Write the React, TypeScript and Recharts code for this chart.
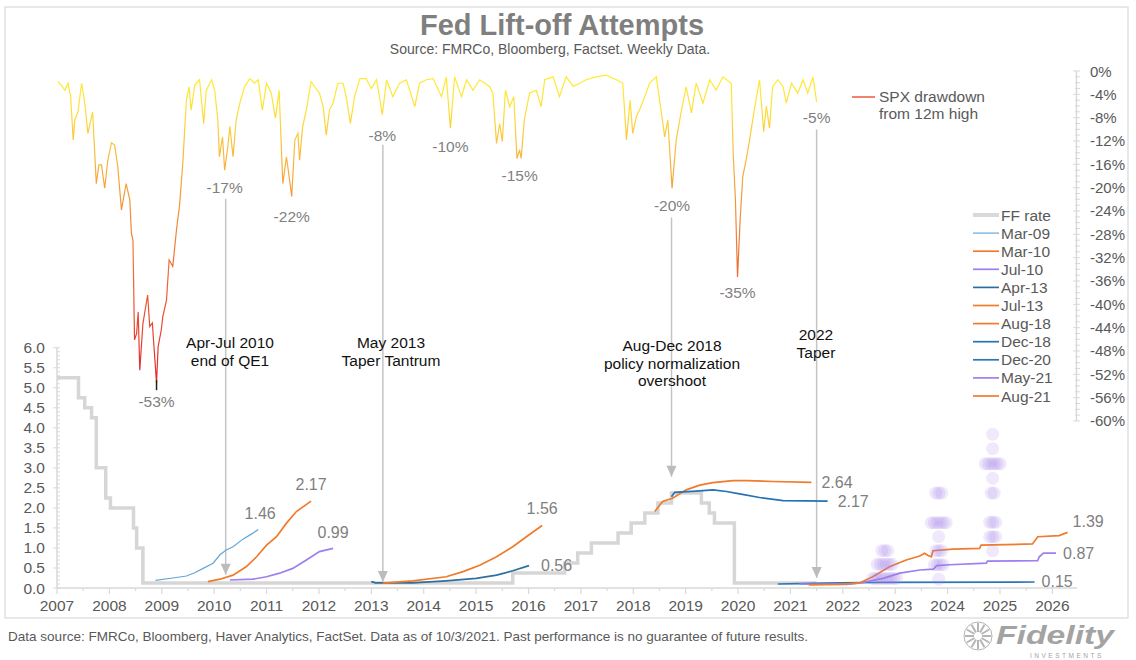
import React from "react";
import {
  ComposedChart,
  Line,
  Scatter,
  XAxis,
  YAxis,
  ReferenceLine,
  ReferenceDot,
} from "recharts";

// ---- tick labels ----
const years = [2007, 2008, 2009, 2010, 2011, 2012, 2013, 2014, 2015, 2016, 2017, 2018, 2019, 2020, 2021, 2022, 2023, 2024, 2025, 2026];
const rateLabels = [0, 0.5, 1, 1.5, 2, 2.5, 3, 3.5, 4, 4.5, 5, 5.5, 6];
const ddLabels = [0, -4, -8, -12, -16, -20, -24, -28, -32, -36, -40, -44, -48, -52, -56, -60];

// ---- SPX drawdown from 12m high (%) ----
const spxDrawdown: [number, number][] = [
  [2007.02, -1.8], [2007.08, -2.4], [2007.15, -3.3], [2007.21, -2.1], [2007.26, -4.4], [2007.31, -11.8],
  [2007.34, -8.4], [2007.4, -7.0], [2007.47, -2.1], [2007.53, -5.5], [2007.59, -10.7], [2007.68, -7.0],
  [2007.75, -19.3], [2007.8, -16.1], [2007.85, -16.1], [2007.91, -20.1], [2007.97, -15.3], [2008.04, -12.3],
  [2008.1, -12.7], [2008.16, -16.4], [2008.23, -23.8], [2008.32, -19.3], [2008.39, -22.1], [2008.42, -27.8],
  [2008.45, -29.0], [2008.48, -46.1], [2008.52, -45.0], [2008.55, -41.3], [2008.58, -51.3], [2008.64, -43.3],
  [2008.73, -38.4], [2008.77, -43.8], [2008.82, -43.2], [2008.86, -48.4], [2008.9, -53.5], [2008.93, -47.3],
  [2008.99, -44.4], [2009.02, -42.1], [2009.09, -39.3], [2009.14, -32.4], [2009.21, -33.5], [2009.28, -27.3],
  [2009.34, -23.0], [2009.4, -16.0], [2009.47, -5.0], [2009.52, -2.7], [2009.56, -6.7], [2009.63, -2.4],
  [2009.72, -1.5], [2009.8, -9.0], [2009.85, -3.3], [2009.95, -1.5], [2010.01, -3.3], [2010.07, -8.4],
  [2010.1, -14.7], [2010.16, -11.3], [2010.2, -17.0], [2010.26, -13.0], [2010.3, -9.5], [2010.36, -14.7],
  [2010.42, -8.4], [2010.49, -5.5], [2010.58, -2.7], [2010.68, -1.3], [2010.77, -2.1], [2010.84, -1.5],
  [2010.92, -6.7], [2011.0, -2.1], [2011.09, -3.8], [2011.17, -8.1], [2011.24, -3.3], [2011.31, -19.3],
  [2011.38, -14.7], [2011.44, -18.7], [2011.48, -21.5], [2011.54, -11.8], [2011.6, -10.7], [2011.63, -15.3],
  [2011.69, -9.5], [2011.76, -6.7], [2011.85, -1.8], [2011.92, -2.7], [2012.01, -3.8], [2012.08, -6.1],
  [2012.14, -11.0], [2012.2, -6.7], [2012.27, -5.5], [2012.36, -2.1], [2012.46, -2.1], [2012.52, -4.4],
  [2012.6, -9.0], [2012.68, -4.4], [2012.78, -1.3], [2012.9, -1.3], [2013.0, -3.0], [2013.1, -1.5],
  [2013.21, -7.5], [2013.29, -1.5], [2013.41, -4.4], [2013.54, -2.1], [2013.67, -1.5], [2013.83, -6.1],
  [2013.92, -2.1], [2014.05, -1.5], [2014.18, -1.3], [2014.34, -4.4], [2014.43, -1.0], [2014.51, -9.8],
  [2014.59, -1.0], [2014.72, -4.4], [2014.82, -1.5], [2014.94, -3.3], [2015.07, -1.5], [2015.26, -2.7],
  [2015.32, -3.8], [2015.39, -12.4], [2015.45, -9.0], [2015.5, -12.1], [2015.56, -3.3], [2015.64, -6.1],
  [2015.72, -4.4], [2015.78, -15.0], [2015.83, -13.5], [2015.86, -15.0], [2015.92, -8.4], [2016.02, -3.8],
  [2016.15, -3.3], [2016.24, -6.1], [2016.31, -1.5], [2016.47, -1.0], [2016.59, -4.4], [2016.72, -1.0],
  [2016.85, -2.6], [2016.98, -2.1], [2017.1, -1.5], [2017.29, -1.0], [2017.48, -0.7], [2017.68, -1.5],
  [2017.8, -2.1], [2017.87, -11.8], [2017.94, -5.0], [2017.99, -10.7], [2018.06, -7.8], [2018.12, -6.7],
  [2018.22, -4.4], [2018.31, -2.1], [2018.44, -1.0], [2018.53, -6.7], [2018.6, -11.3], [2018.66, -8.4],
  [2018.74, -20.1], [2018.82, -11.8], [2018.92, -6.7], [2019.01, -2.7], [2019.11, -7.2], [2019.2, -2.1],
  [2019.33, -5.5], [2019.46, -1.5], [2019.58, -3.3], [2019.71, -1.0], [2019.87, -2.1], [2019.91, -14.7],
  [2019.95, -22.1], [2019.99, -35.3], [2020.04, -25.5], [2020.09, -18.1], [2020.16, -15.0], [2020.22, -11.8],
  [2020.31, -6.7], [2020.41, -1.5], [2020.49, -10.4], [2020.54, -6.0], [2020.6, -9.8], [2020.66, -2.7],
  [2020.76, -1.5], [2020.86, -2.7], [2020.92, -5.5], [2021.02, -2.1], [2021.14, -3.8], [2021.24, -1.5],
  [2021.33, -3.8], [2021.43, -1.0], [2021.5, -5.3],
];

// ---- Fed funds rate (step) ----
const ffRate: [number, number][] = [
  [2007.0, 5.25], [2007.41, 4.75], [2007.53, 4.5], [2007.66, 4.25], [2007.75, 3.0], [2007.93, 2.25],
  [2008.02, 2.0], [2008.46, 1.5], [2008.52, 1.0], [2008.64, 0.125], [2015.7, 0.375], [2016.69, 0.625],
  [2016.94, 0.875], [2017.2, 1.125], [2017.71, 1.375], [2017.96, 1.625], [2018.22, 1.875], [2018.47, 2.125],
  [2018.73, 2.375], [2019.3, 2.125], [2019.45, 1.875], [2019.55, 1.625], [2019.93, 0.125], [2021.5, 0.125],
];

// ---- market-implied paths at each lift-off attempt ----
const mar09: [number, number][] = [
  [2008.88, 0.19], [2009.21, 0.25], [2009.47, 0.3], [2009.63, 0.38], [2009.79, 0.49], [2009.98, 0.62],
  [2010.11, 0.83], [2010.23, 0.95], [2010.36, 1.03], [2010.55, 1.22], [2010.74, 1.37], [2010.84, 1.46],
];
const mar10: [number, number][] = [
  [2009.88, 0.16], [2010.11, 0.22], [2010.36, 0.32], [2010.61, 0.53], [2010.81, 0.78], [2011.0, 1.07],
  [2011.19, 1.28], [2011.38, 1.62], [2011.57, 1.91], [2011.85, 2.17],
];
const jul10: [number, number][] = [
  [2010.3, 0.2], [2010.74, 0.22], [2011.0, 0.28], [2011.25, 0.37], [2011.5, 0.49], [2011.76, 0.7],
  [2012.01, 0.91], [2012.27, 0.99],
];
const apr13: [number, number][] = [
  [2013.0, 0.16], [2013.08, 0.13], [2013.79, 0.13], [2014.43, 0.18], [2015.0, 0.24], [2015.39, 0.32],
  [2015.7, 0.43], [2016.01, 0.56],
];
const jul13: [number, number][] = [
  [2013.22, 0.12], [2013.79, 0.18], [2014.43, 0.28], [2014.75, 0.41], [2015.07, 0.57], [2015.39, 0.78],
  [2015.7, 1.03], [2015.96, 1.28], [2016.26, 1.56],
];
const aug18: [number, number][] = [
  [2018.41, 1.91], [2018.56, 2.16], [2018.75, 2.24], [2019.01, 2.45], [2019.27, 2.57], [2019.52, 2.63],
  [2019.9, 2.68], [2020.16, 2.68], [2020.66, 2.66], [2021.4, 2.64],
];
const dec18: [number, number][] = [
  [2018.73, 2.28], [2018.79, 2.39], [2019.2, 2.42], [2019.52, 2.45], [2019.78, 2.41], [2020.03, 2.35],
  [2020.41, 2.26], [2020.86, 2.18], [2021.71, 2.17],
];
const dec20: [number, number][] = [
  [2020.76, 0.1], [2021.62, 0.12], [2022.7, 0.14], [2025.66, 0.15],
];
const may21: [number, number][] = [
  [2021.17, 0.1], [2022.07, 0.09], [2022.33, 0.13], [2022.77, 0.24], [2023.09, 0.37], [2023.47, 0.45],
  [2023.73, 0.47], [2023.79, 0.56], [2024.04, 0.58], [2024.74, 0.62], [2024.76, 0.67], [2025.72, 0.68],
  [2025.75, 0.78], [2025.83, 0.87], [2026.07, 0.87],
];
const aug21: [number, number][] = [
  [2021.35, 0.08], [2021.93, 0.09], [2022.31, 0.12], [2022.57, 0.28], [2022.89, 0.53], [2023.21, 0.7],
  [2023.47, 0.8], [2023.56, 0.87], [2023.62, 0.82], [2023.69, 0.78], [2023.72, 0.93], [2024.1, 0.97],
  [2024.61, 0.99], [2024.64, 1.07], [2025.62, 1.1], [2025.72, 1.28], [2026.13, 1.31], [2026.29, 1.39],
];

// ---- FOMC dots: [year, rate, number of participants] ----
const fomcDots: [number, number, number][] = [
  [2022.8, 0.24, 9], [2022.8, 0.59, 6], [2022.8, 0.93, 3],
  [2023.83, 0.22, 1], [2023.83, 0.58, 4], [2023.83, 0.93, 3], [2023.83, 1.28, 1], [2023.83, 1.63, 6], [2023.83, 2.37, 3],
  [2024.86, 0.93, 1], [2024.86, 1.28, 3], [2024.86, 1.64, 3], [2024.86, 2.37, 2], [2024.86, 2.74, 1],
  [2024.86, 3.1, 6], [2024.86, 3.48, 1], [2024.86, 3.84, 1],
];

// ---- drawdown troughs that get a label: [year, drawdown %] ----
const troughs: [number, number][] = [
  [2008.9, -53], [2010.2, -17], [2011.48, -22], [2013.21, -8], [2014.51, -10],
  [2015.83, -15], [2018.74, -20], [2019.99, -35], [2021.5, -5],
];

// ---- arrows: [year, top (rate axis), tip (rate axis)] ----
const arrows: [number, number, number][] = [
  [2010.22, 9.72, 0.33], [2013.22, 11.07, 0.15], [2018.73, 9.25, 2.78], [2021.5, 11.45, 0.25],
];

const FONT = '"Liberation Sans", Arial, sans-serif';
const ORANGE = "#f07b2a";
const PURPLE = "#9d7ff0";

const attempts = [
  { name: "Mar-09", data: mar09, color: "#62a6d8", width: 1.2, dx: 2, dy: -16, anchor: "middle" },
  { name: "Mar-10", data: mar10, color: ORANGE, width: 1.7, dx: 0, dy: -17, anchor: "middle" },
  { name: "Jul-10", data: jul10, color: PURPLE, width: 1.7, dx: 0, dy: -16, anchor: "middle" },
  { name: "Apr-13", data: apr13, color: "#2f6f9f", width: 1.7, dx: 12, dy: 0, anchor: "start" },
  { name: "Jul-13", data: jul13, color: ORANGE, width: 1.7, dx: 0, dy: -17, anchor: "middle" },
  { name: "Aug-18", data: aug18, color: ORANGE, width: 1.7, dx: 10, dy: 0, anchor: "start" },
  { name: "Dec-18", data: dec18, color: "#2472b8", width: 1.7, dx: 10, dy: 0, anchor: "start" },
  { name: "Dec-20", data: dec20, color: "#2e75b6", width: 1.7, dx: 7, dy: 0, anchor: "start" },
  { name: "May-21", data: may21, color: PURPLE, width: 1.7, dx: 7, dy: 0, anchor: "start" },
  { name: "Aug-21", data: aug21, color: ORANGE, width: 1.7, dx: 5, dy: -11, anchor: "start" },
];

const toPts = (arr: [number, number][]) => arr.map(([x, y]) => ({ x, y }));

const xTicks = years.flatMap((y) => [y, y + 0.5]).filter((v) => v <= 2026.4);
const rateTicks = Array.from({ length: 61 }, (_, i) => i / 10);
const ddTicks = Array.from({ length: 61 }, (_, i) => -i);

const PLOT_BOTTOM = 588;
const AXIS = "#d9d9d9";
const TICK_TEXT = "#595959";

const XTick = (p: any) => {
  const v = p.payload.value;
  const major = Number.isInteger(v);
  return (
    <g>
      <line x1={p.x} x2={p.x} y1={PLOT_BOTTOM} y2={PLOT_BOTTOM + (major ? 6 : 3)} stroke={AXIS} strokeWidth={1.2} />
      {major && (
        <text x={p.x} y={PLOT_BOTTOM + 23} textAnchor="middle" fontSize={15.5} fill={TICK_TEXT} fontFamily={FONT}>
          {v}
        </text>
      )}
    </g>
  );
};

const RateTick = (p: any) => {
  const v = p.payload.value;
  if (v > 6.001) return <g />;
  const major = rateLabels.some((l) => Math.abs(l - v) < 1e-6);
  return (
    <g>
      <line x1={major ? 53 : 57} x2={60} y1={p.y} y2={p.y} stroke={AXIS} strokeWidth={1} />
      {major && (
        <text x={45} y={p.y + 5.5} textAnchor="end" fontSize={15.5} fill={TICK_TEXT} fontFamily={FONT}>
          {v.toFixed(1)}
        </text>
      )}
    </g>
  );
};

const DdTick = (p: any) => {
  const v = p.payload.value;
  if (v < -60) return <g />;
  const major = ddLabels.includes(v);
  return (
    <g>
      <line x1={major ? 1073 : 1075} x2={1080} y1={p.y} y2={p.y} stroke={AXIS} strokeWidth={1} />
      {major && (
        <text x={1090} y={p.y + 5.5} textAnchor="start" fontSize={15} fill={TICK_TEXT} fontFamily={FONT}>
          {v}%
        </text>
      )}
    </g>
  );
};

const endLabel = (s: any) => (p: any) => {
  const n = s.data.length;
  if (p.index !== n - 1) return <g key={p.index} />;
  return (
    <text
      key={p.index}
      x={p.cx + s.dx}
      y={p.cy + s.dy + 5.5}
      textAnchor={s.anchor}
      fontSize={16}
      fill="#7f7f7f"
      fontFamily={FONT}
    >
      {s.data[n - 1][1].toFixed(2)}
    </text>
  );
};

const DotRow = (p: any) => {
  const n = p.payload.n;
  const step = 3;
  return (
    <g>
      {Array.from({ length: n }, (_, i) => (
        <circle key={i} cx={p.cx + (i - (n - 1) / 2) * step} cy={p.cy} r={6.5} fill="#a07ae8" fillOpacity={0.17} />
      ))}
    </g>
  );
};

const dotData = fomcDots.map(([x, y, n]) => ({ x, y, n }));

const legendRows = [{ name: "FF rate", color: "#d9d9d9", width: 4 }, ...attempts];

const notes = [
  { x: 230, y: 348, lines: ["Apr-Jul 2010", "end of QE1"] },
  { x: 391, y: 348, lines: ["May 2013", "Taper Tantrum"] },
  { x: 672, y: 351, lines: ["Aug-Dec 2018", "policy normalization", "overshoot"] },
  { x: 816, y: 340, lines: ["2022", "Taper"] },
];

export default function App() {
  return (
    <div style={{ position: "absolute", left: 0, top: 0, width: 1136, height: 660, background: "#fff", overflow: "hidden" }}>
      <div style={{ position: "absolute", left: 0, top: 0 }}>
        <ComposedChart width={1136} height={660} margin={{ top: 71, right: 4, bottom: 42, left: 7 }}>
          <defs>
            <linearGradient id="ddGrad" gradientUnits="userSpaceOnUse" x1="0" y1="71" x2="0" y2="383">
              <stop offset="0" stopColor="#ffee2e" />
              <stop offset="0.12" stopColor="#fde03a" />
              <stop offset="0.25" stopColor="#f9bd3f" />
              <stop offset="0.4" stopColor="#f39a3a" />
              <stop offset="0.6" stopColor="#ee7336" />
              <stop offset="0.8" stopColor="#e94a31" />
              <stop offset="1" stopColor="#e0262b" />
            </linearGradient>
          </defs>
          <XAxis
            type="number"
            dataKey="x"
            domain={[2007, 2026.47]}
            ticks={xTicks}
            interval={0}
            tick={XTick}
            tickLine={false}
            axisLine={{ stroke: AXIS, strokeWidth: 1.6 }}
            height={30}
          />
          <YAxis
            yAxisId="rate"
            type="number"
            domain={[0, 12.91]}
            ticks={rateTicks}
            interval={0}
            tick={RateTick}
            axisLine={false}
            tickLine={false}
            width={50}
          />
          <YAxis
            yAxisId="dd"
            orientation="right"
            type="number"
            domain={[-88.63, 0]}
            ticks={ddTicks}
            interval={0}
            tick={DdTick}
            axisLine={false}
            tickLine={false}
            width={55}
          />

          {/* axis lines that only span part of the height */}
          <ReferenceLine yAxisId="rate" segment={[{ x: 2007, y: 0 }, { x: 2007, y: 6 }]} stroke={AXIS} strokeWidth={1.5} />
          <ReferenceLine yAxisId="dd" segment={[{ x: 2026.46, y: 0 }, { x: 2026.46, y: -60 }]} stroke={AXIS} strokeWidth={1.5} />

          {arrows.map(([x, top, tip], i) => (
            <ReferenceLine
              key={"a" + i}
              yAxisId="rate"
              segment={[{ x, y: top }, { x, y: tip }]}
              stroke="#c4c4c4"
              strokeWidth={1.5}
            />
          ))}
          {arrows.map(([x, , tip], i) => (
            <ReferenceDot
              key={"ah" + i}
              yAxisId="rate"
              x={x}
              y={tip}
              r={0}
              shape={(p: any) => (
                <path d={`M${p.cx - 5},${p.cy - 11} L${p.cx + 5},${p.cy - 11} L${p.cx},${p.cy} Z`} fill="#bcbcbc" />
              )}
            />
          ))}

          <Line
            yAxisId="rate"
            data={toPts(ffRate)}
            dataKey="y"
            type="stepAfter"
            stroke="#d6d6d6"
            strokeWidth={3.5}
            dot={false}
            activeDot={false}
            isAnimationActive={false}
          />
          <Scatter
            yAxisId="rate"
            data={dotData}
            dataKey="y"
            shape={DotRow}
            isAnimationActive={false}
          />
          {attempts.map((s) => (
            <Line
              key={s.name}
              yAxisId="rate"
              data={toPts(s.data)}
              dataKey="y"
              type="linear"
              stroke={s.color}
              strokeWidth={s.width}
              dot={endLabel(s)}
              activeDot={false}
              isAnimationActive={false}
            />
          ))}
          <Line
            yAxisId="dd"
            data={toPts(spxDrawdown)}
            dataKey="y"
            type="linear"
            stroke="url(#ddGrad)"
            strokeWidth={1.2}
            dot={false}
            activeDot={false}
            isAnimationActive={false}
          />

          {troughs.map(([x, v], i) => (
            <ReferenceDot
              key={"t" + i}
              yAxisId="dd"
              x={x}
              y={v}
              r={0}
              shape={(p: any) => (
                <g>
                  {v === -53 && <line x1={p.cx} x2={p.cx} y1={p.cy} y2={p.cy + 10} stroke="#222" strokeWidth={1.5} />}
                  <text
                    x={p.cx}
                    y={p.cy + (v === -53 ? 27 : 23)}
                    textAnchor="middle"
                    fontSize={15.5}
                    fill="#7f7f7f"
                    fontFamily={FONT}
                  >
                    {v}%
                  </text>
                </g>
              )}
            />
          ))}
        </ComposedChart>
      </div>

      <svg
        width={1136}
        height={660}
        style={{ position: "absolute", left: 0, top: 0, pointerEvents: "none" }}
        fontFamily={FONT}
      >
        <rect x={5} y={7} width={1123} height={611} fill="none" stroke="#d9d9d9" strokeWidth={1.2} />

        <text x={562} y={35} textAnchor="middle" fontSize={29} fontWeight="bold" fill="#7f7f7f">
          Fed Lift-off Attempts
        </text>
        <text x={550} y={54} textAnchor="middle" fontSize={14} fill="#595959">
          Source: FMRCo, Bloomberg, Factset. Weekly Data.
        </text>

        {/* SPX legend */}
        <line x1={852} x2={875} y1={97} y2={97} stroke="#f2826c" strokeWidth={2} />
        <text x={879} y={102} fontSize={15.5} fill={TICK_TEXT}>SPX drawdown</text>
        <text x={879} y={119} fontSize={15.5} fill={TICK_TEXT}>from 12m high</text>

        {/* rates legend */}
        {legendRows.map((r, i) => (
          <g key={r.name}>
            <line x1={973} x2={999} y1={215 + i * 18.1} y2={215 + i * 18.1} stroke={r.color} strokeWidth={r.width} />
            <text x={1001} y={215 + i * 18.1 + 5.5} fontSize={15.5} fill={TICK_TEXT}>
              {r.name}
            </text>
          </g>
        ))}

        {notes.map((n) =>
          n.lines.map((l, j) => (
            <text key={l} x={n.x} y={n.y + j * 17.5} textAnchor="middle" fontSize={15.5} fill="#111">
              {l}
            </text>
          ))
        )}

        <text
          x={8}
          y={641}
          fontSize={13.5}
          fill={TICK_TEXT}
          fontFamily='"Liberation Sans Narrow", "Liberation Sans", Arial, sans-serif'
          textLength={800}
          lengthAdjust="spacingAndGlyphs"
        >
          Data source: FMRCo, Bloomberg, Haver Analytics, FactSet. Data as of 10/3/2021. Past performance is no guarantee of future results.
        </text>

        {/* Fidelity logo */}
        <g>
          <circle cx={978} cy={636} r={14} fill="none" stroke="#b5b5b5" strokeWidth={1} />
          {Array.from({ length: 12 }, (_, i) => {
            const a = (i / 12) * Math.PI * 2;
            return (
              <line
                key={i}
                x1={978 + Math.cos(a) * 4}
                y1={636 + Math.sin(a) * 4}
                x2={978 + Math.cos(a) * 13}
                y2={636 + Math.sin(a) * 13}
                stroke="#b5b5b5"
                strokeWidth={2}
              />
            );
          })}
          <text x={996} y={644} fontSize={26} fontWeight="bold" fontStyle="italic" fill="#a3a3a3" textLength={118} lengthAdjust="spacingAndGlyphs">
            Fidelity
          </text>
          <text x={1030} y={658} fontSize={6.5} fill="#a3a3a3" letterSpacing={2.5}>
            INVESTMENTS
          </text>
        </g>
      </svg>
    </div>
  );
}
